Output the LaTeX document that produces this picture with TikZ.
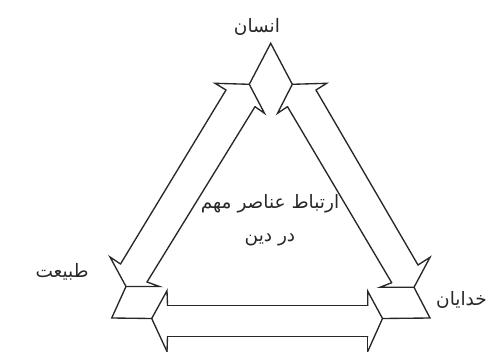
\documentclass[tikz,border=0pt]{standalone}
\usepackage{fontspec}
\usepackage{tikz}
\usetikzlibrary{positioning}
\newfontfamily\persianfont[Script=Arabic]{DejaVu Sans}
\TeXXeTstate=1
\definecolor{inkgray}{RGB}{40,40,40}
\tikzset{
  outline/.style={draw=inkgray, line width=1.35pt, line join=miter, line cap=round},
  fatext/.style={font=\persianfont\fontsize{18.5}{22}\selectfont, text=inkgray, inner sep=0pt}
}

\begin{document}
\begin{tikzpicture}[x=1pt, y=1pt]
  \useasboundingbox (0,0) rectangle (494,351);

  % top corner
  \coordinate (A)   at (270.7,307.7);
  \coordinate (TL)  at (249.3,266.7);
  \coordinate (TR)  at (292.3,266.7);
  \coordinate (LB)  at (215,267.7);
  \coordinate (LN)  at (226,261);
  \coordinate (LIN) at (255,244.3);
  \coordinate (LIB) at (264.5,237.7);
  \coordinate (RB)  at (326.7,267.7);
  \coordinate (RN)  at (316,261);
  \coordinate (RIN) at (287.5,244.3);
  \coordinate (RIB) at (277.5,237.7);
  % left arrow, lower head
  \coordinate (LLB)  at (110,94);
  \coordinate (LLN)  at (120.5,87);
  \coordinate (LLIN) at (147,69);
  \coordinate (LLIB) at (159.5,64.5);
  \coordinate (BL1)  at (126,64.5);
  \coordinate (BL2)  at (111.7,33);
  % right arrow, lower head
  \coordinate (RLB)  at (430,93.7);
  \coordinate (RLN)  at (418,86);
  \coordinate (RLIN) at (391.7,68.3);
  \coordinate (RLIB) at (380,63.7);
  \coordinate (BR1)  at (414,63.7);
  \coordinate (BR2)  at (430,33);
  % bottom arrow
  \coordinate (BL3) at (151.7,32.5);
  \coordinate (BUB) at (167,60.3);
  \coordinate (BUN) at (167.5,45.5);
  \coordinate (BDN) at (167.5,14.5);
  \coordinate (BDB) at (167,-0.5);
  \coordinate (BR3) at (382.5,32.5);
  \coordinate (CUB) at (367.7,59.8);
  \coordinate (CUN) at (367.7,45.5);
  \coordinate (CDN) at (367.7,14.5);
  \coordinate (CDB) at (367.7,-0.5);

  \draw[outline] (LN) -- (LB) -- (TL) -- (A) -- (TR) -- (RB) -- (RN);
  \draw[outline] (LIN) -- (LIB) -- (TL);
  \draw[outline] (RIN) -- (RIB) -- (TR);

  \draw[outline] (LN) -- (LLN);
  \draw[outline] (LIN) -- (LLIN);
  \draw[outline] (RN) -- (RLN);
  \draw[outline] (RIN) -- (RLIN);

  \draw[outline] (LLN) -- (LLB) -- (BL1) -- (BL2) -- (BL3);
  \draw[outline] (LLIN) -- (LLIB) -- (BL1);
  \draw[outline] (RLN) -- (RLB) -- (BR1) -- (BR2) -- (BR3);
  \draw[outline] (RLIN) -- (RLIB) -- (BR1);

  \draw[outline] (BUN) -- (BUB) -- (BL3) -- (BDB);
  \draw[outline] (BDN) -- (BDB);
  \draw[outline] (CUN) -- (CUB) -- (BR3) -- (CDB);
  \draw[outline] (CDN) -- (CDB);
  \draw[outline] (BUN) -- (CUN);
  \draw[outline] (BDN) -- (CDN);

  \node[fatext] (ensan) at (257,324.5) {\beginR انسان\endR};
  \node[fatext] (tabiat) at (62,79) {\beginR طبیعت\endR};
  \node[fatext, anchor=west] (khodayan) at (436,51) {\beginR خدایان\endR};
  \node[fatext] (rel) at (270,147) {\beginR ارتباط عناصر مهم\endR};
  \node[fatext, below=20pt of rel] (din) {\beginR در دین\endR};
\end{tikzpicture}
\end{document}
